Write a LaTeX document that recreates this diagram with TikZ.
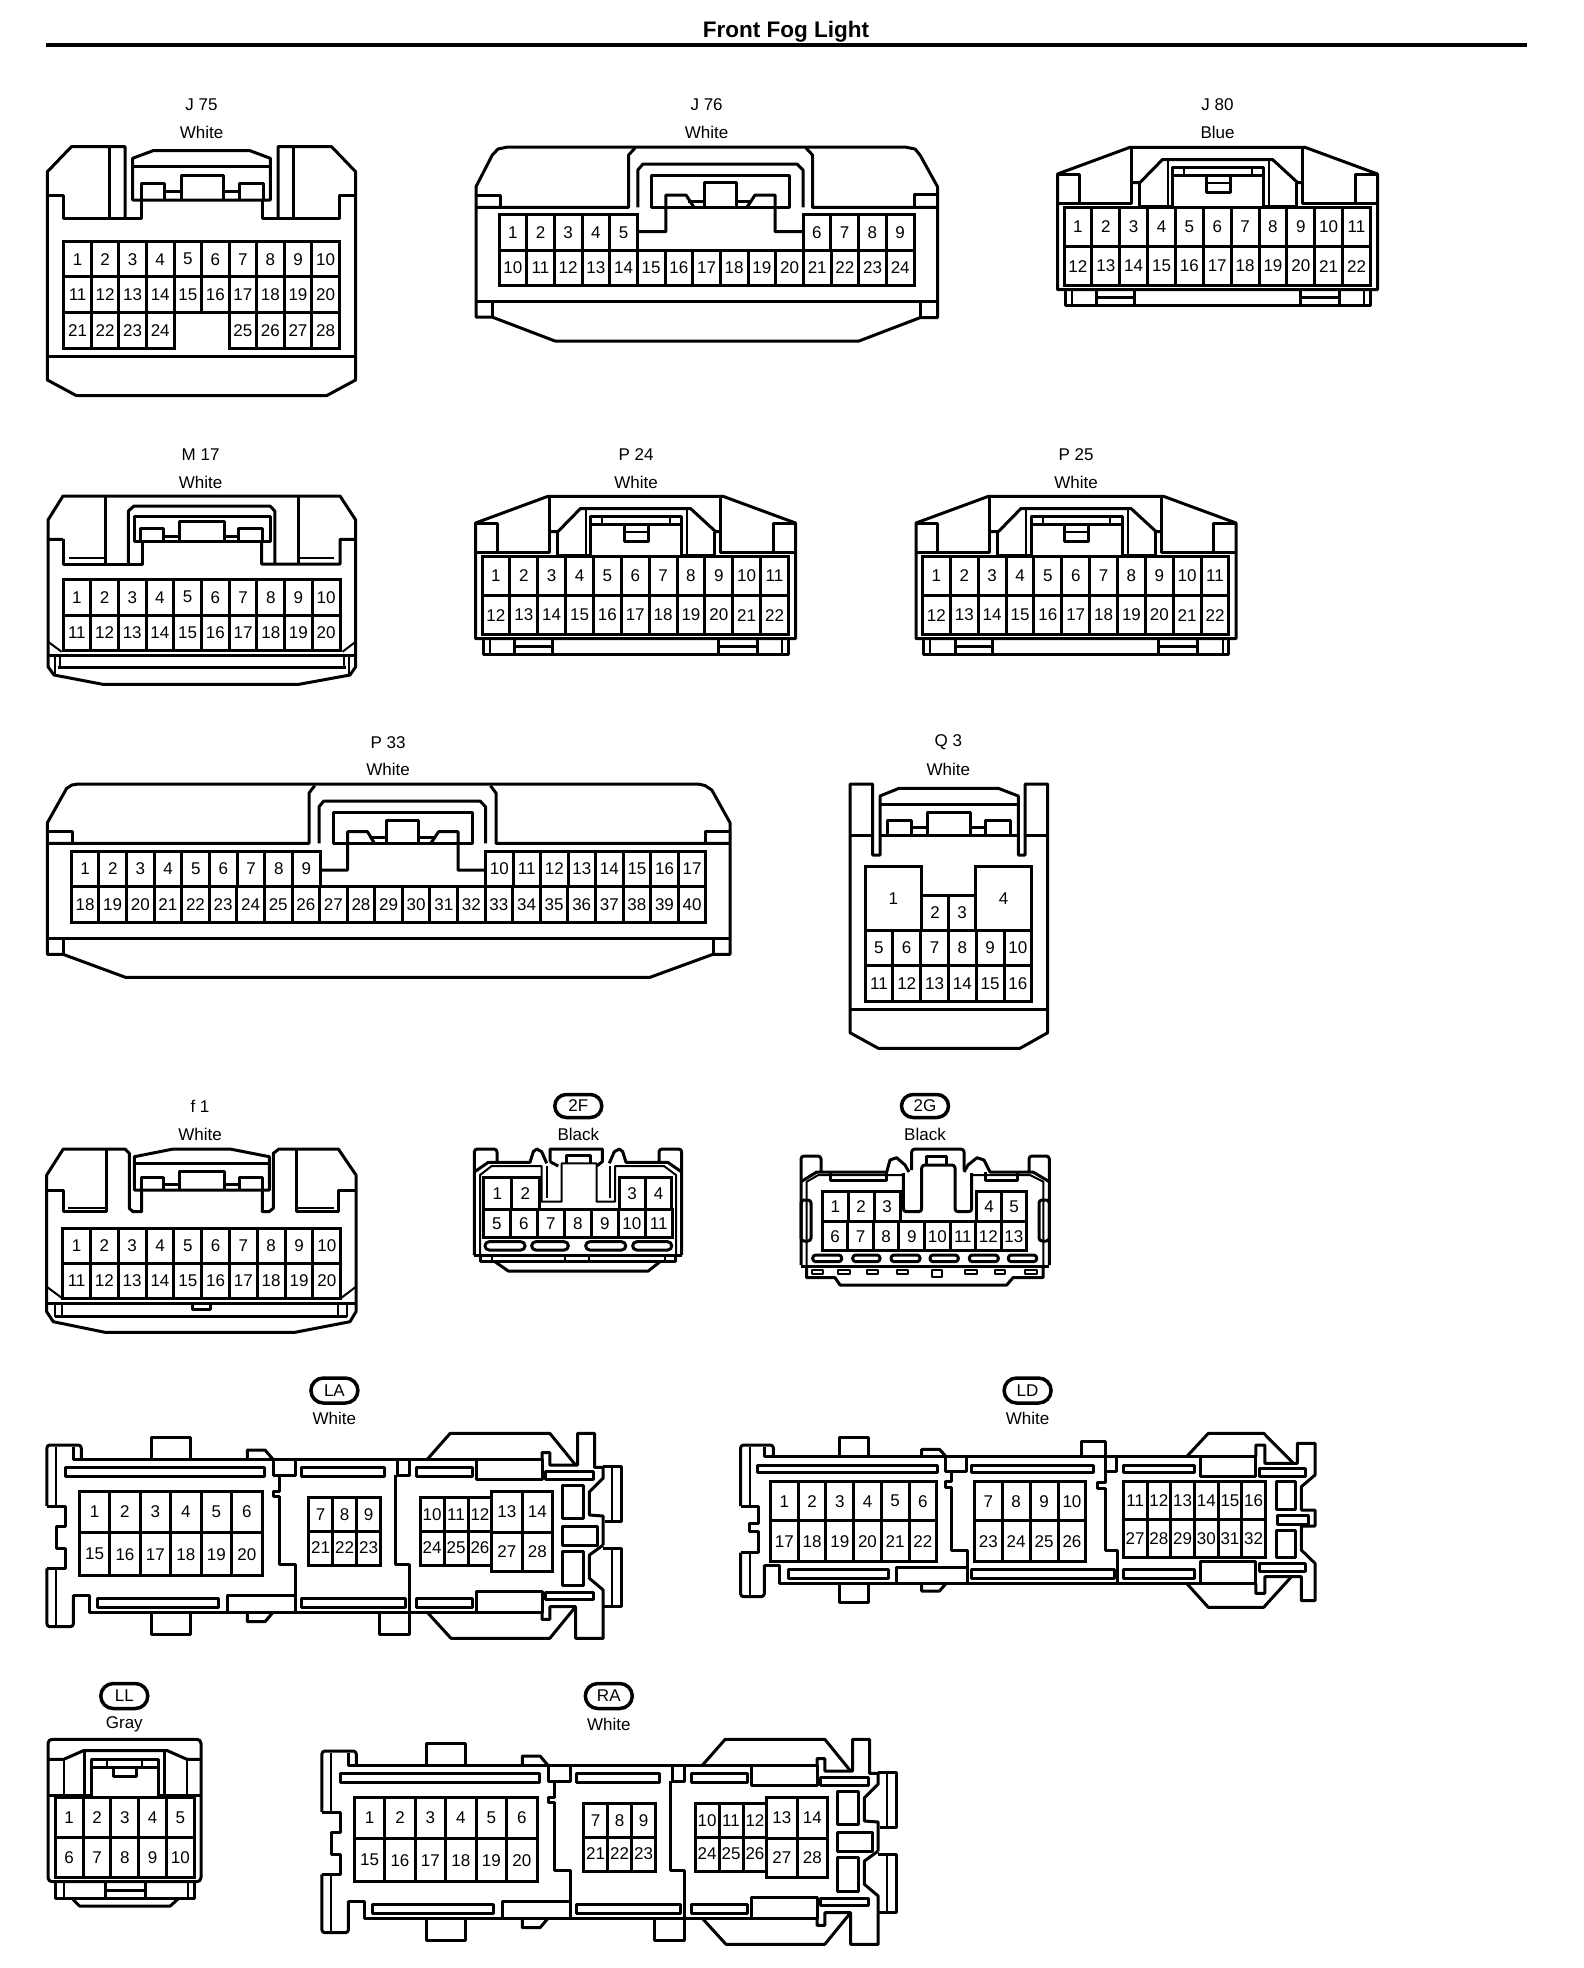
\documentclass[tikz,border=0pt]{standalone}
\usepackage{fontspec}
\setmainfont{Liberation Sans}
\usetikzlibrary{shapes.misc}
\tikzset{
  heavy/.style={line width=3pt,line join=round},
  light/.style={line width=2pt,line join=round},
  pincell/.style={draw,line width=3pt,inner sep=0pt,outer sep=0pt,anchor=north west,font=\fontsize{17}{20}\selectfont},
  conname/.style={inner sep=0pt,font=\fontsize{17}{20}\selectfont},
  pill/.style={draw,rounded rectangle,line width=3.5pt,inner sep=0pt,minimum width=47pt,font=\fontsize{17}{20}\selectfont}
}
% one row of pins: prefix, x, top, bottom, width, first, last
\newcommand{\pinrow}[7]{
  \pgfmathsetmacro{\pinh}{#4-#3}
  \foreach \n in {#6,...,#7} {
    \pgfmathsetmacro{\pinx}{#2+(\n-#6)*#5}
    \node[pincell,minimum width=#5pt,minimum height=\pinh pt] (#1-\n) at (\pinx,#3) {\n};
  }
}
% J 80, P 24, P 25
\newcommand{\wedgeconn}[3]{
  \begin{scope}[shift={(#2,#3)}]
    \draw[heavy] (1057.5,289.6) -- (1057.5,174) -- (1130,147.3) -- (1305,147.3) -- (1377.5,174) -- (1377.5,289.6) -- cycle;
    \draw[heavy] (1057.5,174) -- (1079,174) -- (1079,203.5);
    \draw[heavy] (1377.5,174) -- (1355,174) -- (1355,203.5);
    \draw[heavy] (1057.5,203.5) -- (1131,203.5) -- (1131,147.3);
    \draw[heavy] (1377.5,203.5) -- (1302.5,203.5) -- (1302.5,147.3);
    \draw[heavy] (1131,182.5) -- (1140,182.5) -- (1162.5,159.5) -- (1272.5,159.5) -- (1297.5,182.5) -- (1302.5,182.5);
    \draw[heavy] (1139,182.5) -- (1139,206) -- (1172.5,206);
    \draw[heavy] (1296.5,182.5) -- (1296.5,206) -- (1263.5,206);
    \draw[light] (1167.5,159.5) -- (1167.5,206);
    \draw[light] (1269,159.5) -- (1269,206);
    \draw[heavy] (1172.5,207) -- (1172.5,167) -- (1263.5,167) -- (1263.5,207);
    \draw[heavy] (1172.5,175) -- (1263.5,175);
    \draw[light] (1184,167) -- (1184,175);
    \draw[light] (1251.5,167) -- (1251.5,175);
    \draw[heavy] (1206,175) -- (1206,192) -- (1230,192) -- (1230,175);
    \draw[light] (1206,182.5) -- (1230,182.5);
    \pinrow{#1}{1064}{207.3}{246.4}{27.86}{1}{11}
    \pinrow{#1}{1064}{246.4}{285.8}{27.86}{12}{22}
    \draw[heavy] (1065,289.6) -- (1065,305) -- (1370,305) -- (1370,289.6);
    \draw[light] (1071.5,289.6) -- (1071.5,305);
    \draw[light] (1364,289.6) -- (1364,305);
    \draw[heavy] (1096.5,289.6) -- (1096.5,305);
    \draw[heavy] (1134,289.6) -- (1134,305);
    \draw[heavy] (1096.5,297) -- (1134,297);
    \draw[heavy] (1300,289.6) -- (1300,305);
    \draw[heavy] (1339,289.6) -- (1339,305);
    \draw[heavy] (1300,297) -- (1339,297);
  \end{scope}
}
% LA, RA
\newcommand{\railconn}[3]{
  \begin{scope}[shift={(#2,#3)}]
    \draw[heavy,rounded corners=3pt] (81.3,1458.3) -- (81.3,1445) -- (46.9,1445) -- (46.9,1506);
    \draw[heavy] (46.9,1506) -- (65.5,1506) -- (65.5,1526.7) -- (56.4,1526.7) -- (56.4,1548.3) -- (65.5,1548.3) -- (65.5,1568.3) -- (46.9,1568.3);
    \draw[heavy,rounded corners=3pt] (46.9,1568.3) -- (46.9,1626.7) -- (73.4,1626.7) -- (73.4,1595);
    \draw[light] (56.4,1447) -- (56.4,1506);
    \draw[light] (56.4,1568.3) -- (56.4,1626.7);
    \draw[heavy] (73.4,1447) -- (73.4,1459.3) -- (542,1459.3);
    \draw[heavy] (73.4,1595) -- (89.2,1595) -- (89.2,1612.3) -- (542,1612.3);
    % tabs
    \draw[heavy] (151.7,1459.3) -- (151.7,1437.3) -- (190,1437.3) -- (190,1459.3);
    \draw[heavy] (151.7,1612.3) -- (151.7,1634) -- (190,1634) -- (190,1612.3);
    \draw[heavy] (247.4,1459.3) -- (247.4,1450) -- (265,1450) -- (273,1459.3);
    \draw[heavy] (247.4,1612.3) -- (247.4,1621.7) -- (265,1621.7) -- (273,1612.3);
    \draw[heavy] (379.8,1612.3) -- (379.8,1634) -- (409.5,1634) -- (409.5,1612.3);
    % slots
    \draw[heavy] (65.5,1467.3) rectangle (264.4,1476);
    \draw[heavy] (301.5,1467.3) rectangle (384.6,1476);
    \draw[heavy] (416.2,1467.3) rectangle (472,1476);
    \draw[heavy] (97.9,1598.3) rectangle (218.9,1607.7);
    \draw[heavy] (301.5,1598.3) rectangle (405.5,1607.7);
    \draw[heavy] (416.2,1598.3) rectangle (472,1607.7);
    % dividers
    \draw[heavy] (273,1459.3) rectangle (295.6,1475);
    \draw[heavy] (397.6,1459.3) rectangle (409.5,1475);
    \draw[heavy] (279,1475) -- (279,1491.7) -- (273,1491.7) -- (273,1496.7) -- (279,1496.7) -- (279,1564) -- (295.6,1564) -- (295.6,1612.3);
    \draw[heavy] (395.6,1475) -- (395.6,1564) -- (409.5,1564) -- (409.5,1612.3);
    \draw[heavy] (227.6,1612.3) -- (227.6,1595) -- (295.6,1595);
    \draw[heavy] (476.7,1459.3) rectangle (542,1479.3);
    \draw[heavy] (476.7,1591.7) rectangle (542,1612.3);
    % right end
    \draw[heavy] (427.3,1459.3) -- (450.2,1433.3) -- (549.8,1433.3) -- (575.6,1465);
    \draw[heavy] (427.3,1612.3) -- (451,1638.3) -- (549.8,1638.3) -- (575.6,1606.7);
    \draw[heavy] (542,1459.3) -- (542,1452.7) -- (549.8,1452.7) -- (549.8,1465) -- (577.5,1465) -- (577.5,1433.3) -- (594.5,1433.3) -- (594.5,1467.3) -- (603.2,1467.3) -- (603.2,1478) -- (589.4,1491.7) -- (589.4,1515) -- (603.2,1516) -- (603.2,1545);
    \draw[heavy] (603.2,1545) -- (589.4,1555) -- (589.4,1578.3) -- (603.2,1590) -- (603.2,1638.3) -- (575.6,1638.3) -- (575.6,1606.7) -- (549.8,1606.7) -- (549.8,1619.3) -- (542,1619.3) -- (542,1612.3);
    \draw[heavy] (603.2,1466) -- (621,1466) -- (621,1521.7) -- (605,1521.7);
    \draw[heavy] (603.2,1548.3) -- (621,1548.3) -- (621,1606.7) -- (603.2,1606.7);
    \draw[light] (612,1466) -- (612,1521.7);
    \draw[light] (612,1548.3) -- (612,1606.7);
    \draw[heavy] (545,1471.7) rectangle (593.4,1479.3);
    \draw[heavy] (545,1592.3) rectangle (593.4,1599.3);
    \draw[heavy] (562.5,1485) rectangle (583.5,1518.3);
    \draw[heavy] (562.5,1526.7) rectangle (597.3,1545);
    \draw[heavy] (562.5,1551.7) rectangle (583.5,1585);
    \pinrow{#1}{79.3}{1491}{1532.7}{30.45}{1}{6}
    \pinrow{#1}{79.3}{1532.7}{1575.7}{30.45}{15}{20}
    \pinrow{#1}{308.6}{1497.7}{1531}{24}{7}{9}
    \pinrow{#1}{308.6}{1531}{1565}{24}{21}{23}
    \pinrow{#1}{420.2}{1497.7}{1531}{23.9}{10}{12}
    \pinrow{#1}{420.2}{1531}{1565}{23.9}{24}{26}
    \pinrow{#1}{491.7}{1491}{1532.3}{30.4}{13}{14}
    \pinrow{#1}{491.7}{1532.3}{1571.7}{30.4}{27}{28}
  \end{scope}
}
\begin{document}
\begin{tikzpicture}[x=1pt,y=-1pt]
  \useasboundingbox (0,0) rectangle (1584,1968);
  \node[font=\fontsize{22.5}{26}\selectfont\bfseries,inner sep=0pt] (title) at (786,32) {Front Fog Light};
  \coordinate (ruleL) at (46,45);
  \coordinate (ruleR) at (1527,45);
  \draw[line width=4pt] (ruleL) -- (ruleR);

  % J 75
  \node[conname] (J75a) at (201.5,105) {J 75};
  \node[conname] (J75b) at (201.5,132.7) {White};
  \draw[heavy] (47.4,195) -- (47.4,171.7) -- (71.4,146.7) -- (125,146.7) -- (125,218);
  \draw[heavy] (47.4,195) -- (63.8,195) -- (63.8,218) -- (141,218) -- (141,200);
  \draw[heavy] (109.7,146.7) -- (109.7,218);
  \draw[heavy] (355.6,195) -- (355.6,171.7) -- (331.6,146.7) -- (278,146.7) -- (278,218);
  \draw[heavy] (355.6,195) -- (339.3,195) -- (339.3,218) -- (262.8,218) -- (262.8,200);
  \draw[heavy] (293.4,146.7) -- (293.4,218);
  \draw[heavy] (132.6,200) -- (132.6,158.3) -- (153,150.7) -- (250,150.7) -- (270.4,158.3) -- (270.4,200) -- cycle;
  \draw[heavy] (132.6,166.7) -- (270.4,166.7);
  \draw[heavy] (141,200) -- (141,183.3) -- (164,183.3) -- (164,200);
  \draw[heavy] (181,200) -- (181,175) -- (223,175) -- (223,200);
  \draw[heavy] (239,200) -- (239,183.3) -- (263,183.3) -- (263,200);
  \draw[heavy] (164,191.7) -- (181,191.7);
  \draw[heavy] (223,191.7) -- (239,191.7);
  \pinrow{J75}{63.8}{241.7}{276.7}{27.55}{1}{10}
  \pinrow{J75}{63.8}{276.7}{312.7}{27.55}{11}{20}
  \pinrow{J75}{63.8}{312.7}{348.3}{27.55}{21}{24}
  \pinrow{J75}{229.1}{312.7}{348.3}{27.55}{25}{28}
  \draw[heavy] (47.4,195) -- (47.4,380) -- (76.5,395.7) -- (326.5,395.7) -- (355.6,380) -- (355.6,195);
  \draw[heavy] (47.4,356) -- (355.6,356);

  % J 76
  \node[conname] (J76a) at (706.6,105) {J 76};
  \node[conname] (J76b) at (706.6,132.7) {White};
  \draw[heavy] (476,317) -- (476,186.7) -- (492.3,155) -- (498,149) -- (507.7,147) -- (905,147) -- (915,149) -- (920,155) -- (937.5,186.7) -- (937.5,317.7) -- (920,317.7) -- (859,341) -- (555,341) -- (492,317) -- cycle;
  \draw[heavy] (476,195) -- (500,195) -- (500,207.3);
  \draw[heavy] (937.5,194.7) -- (914,194.7) -- (914,207.3);
  \draw[heavy] (476,207.3) -- (628.6,207.3) -- (628.6,155) -- (635,148);
  \draw[heavy] (937.5,207.3) -- (812.5,207.3) -- (812.5,155) -- (806,148);
  \draw[heavy] (637.8,207.3) -- (637.8,170) -- (643,164) -- (797,164) -- (803,170) -- (803,207.3);
  \draw[heavy] (651.5,207.3) rectangle (789,175);
  \draw[heavy] (637.8,231.7) -- (665.8,231.7) -- (665.8,195) -- (686,195) -- (694,207.3);
  \draw[heavy] (803,231.7) -- (775,231.7) -- (775,195) -- (755,195) -- (747,207.3);
  \draw[heavy] (688,201) -- (704,201);
  \draw[heavy] (736,201) -- (752,201);
  \draw[heavy] (704,207.3) -- (704,182.5) -- (736,182.5) -- (736,207.3);
  \pinrow{J76}{499}{214.5}{250}{27.67}{1}{5}
  \pinrow{J76}{803}{214.5}{250}{27.75}{6}{9}
  \pinrow{J76}{499}{250}{285.5}{27.67}{10}{24}
  \draw[heavy] (476,301) -- (937.5,301);
  \draw[heavy] (492,301) -- (492,317);
  \draw[heavy] (920,301) -- (920,317.7);

  % J 80
  \node[conname] (J80a) at (1217.5,105) {J 80};
  \node[conname] (J80b) at (1217.5,132.7) {Blue};
  \wedgeconn{J80}{0}{0}

  % M 17
  \node[conname] (M17a) at (200.6,454.7) {M 17};
  \node[conname] (M17b) at (200.6,482) {White};
  \draw[heavy] (63,539.3) -- (48,539.3) -- (48,520) -- (63,496) -- (340,496) -- (355.7,520) -- (355.7,539.3) -- (340,539.3) -- (340,564) -- (261.7,564) -- (261.7,541);
  \draw[heavy] (63,539.3) -- (63,564) -- (142.5,564) -- (142.5,541);
  \draw[heavy] (105,496) -- (105,564);
  \draw[heavy] (298,496) -- (298,564);
  \draw[heavy] (128.4,564) -- (128.4,511) -- (134,506) -- (270,506) -- (274.8,511) -- (274.8,564);
  \draw[light] (68.8,558) -- (105,558);
  \draw[light] (298,558) -- (334.4,558);
  \draw[heavy] (134,516.7) rectangle (270,541);
  \draw[heavy] (140.5,541) -- (140.5,528) -- (163,528) -- (163,541);
  \draw[heavy] (179,541) -- (179,521.7) -- (224,521.7) -- (224,541);
  \draw[heavy] (238.4,541) -- (238.4,528) -- (262.7,528) -- (262.7,541);
  \draw[heavy] (163,536) -- (179,536);
  \draw[heavy] (224,536) -- (238.4,536);
  \pinrow{M17}{63}{579.3}{615}{27.7}{1}{10}
  \pinrow{M17}{63}{615}{650.7}{27.7}{11}{20}
  \draw[heavy] (48,539.3) -- (48,666.7) -- (54,675) -- (102.7,684.3) -- (299,684.3) -- (350,675) -- (355.7,666.7) -- (355.7,539.3);
  \draw[heavy] (48,655) -- (355.7,655);
  \draw[heavy] (58,667.7) -- (346,667.7);
  \draw[light] (55,655) -- (55,674);
  \draw[light] (60,655) -- (60,668);
  \draw[light] (349,655) -- (349,674);
  \draw[light] (344,655) -- (344,668);
  \draw[light] (48,641.7) -- (61.5,651.7);
  \draw[light] (355.7,641.7) -- (342.6,651.7);

  % P 24, P 25
  \node[conname] (P24a) at (636,454.7) {P 24};
  \node[conname] (P24b) at (636,482) {White};
  \wedgeconn{P24}{-582}{349}
  \node[conname] (P25a) at (1076,454.7) {P 25};
  \node[conname] (P25b) at (1076,482) {White};
  \wedgeconn{P25}{-141.5}{349}

  % P 33
  \node[conname] (P33a) at (388,742.3) {P 33};
  \node[conname] (P33b) at (388,769.3) {White};
  \draw[heavy] (47.4,954.3) -- (47.4,822.7) -- (66.7,788.3) -- (72,785) -- (78.2,784) -- (698,784) -- (705,785.5) -- (711.8,790) -- (730,822.7) -- (730,954.3) -- (713,954.3) -- (650,977.3) -- (125.5,977.3) -- (63,954.3) -- cycle;
  \draw[heavy] (47.4,831) -- (72.2,831) -- (72.2,843.3);
  \draw[heavy] (730,831) -- (705.8,831) -- (705.8,843.3);
  \draw[heavy] (47.4,843.3) -- (309,843.3) -- (309,793) -- (314.7,785.7);
  \draw[heavy] (730,843.3) -- (496,843.3) -- (496,793) -- (490.5,785.7);
  \draw[heavy] (319,843.3) -- (319,806.7) -- (323.8,801) -- (480,801) -- (485.5,806.7) -- (485.5,843.3);
  \draw[heavy] (333,812.3) rectangle (472,843.3);
  \draw[heavy] (320,870) -- (347.7,870) -- (347.7,831.7) -- (367.5,831.7) -- (374.4,843.3);
  \draw[heavy] (485.5,870) -- (458,870) -- (458,831.7) -- (438.6,831.7) -- (430.8,843.3);
  \draw[heavy] (369.8,837.3) -- (386.8,837.3);
  \draw[heavy] (418,837.3) -- (434,837.3);
  \draw[heavy] (386.8,843.3) -- (386.8,820) -- (418,820) -- (418,843.3);
  \pinrow{P33}{71.3}{851}{886.7}{27.66}{1}{9}
  \pinrow{P33}{485.5}{851}{886.7}{27.54}{10}{17}
  \pinrow{P33}{71.3}{886.7}{922.3}{27.59}{18}{40}
  \draw[heavy] (47.4,938.3) -- (730,938.3);
  \draw[heavy] (63,938.3) -- (63,954.3);
  \draw[heavy] (713,938.3) -- (713,954.3);

  % Q 3
  \node[conname] (Q3a) at (948.3,742.3) {Q 3};
  \node[conname] (Q3b) at (948.3,769.3) {White};
  \draw[heavy] (850,1032.7) -- (850,784) -- (872.7,784) -- (872.7,855) -- (880,855) -- (880,796) -- (899,788.3) -- (998.3,788.3) -- (1018.3,796) -- (1018.3,855) -- (1025,855) -- (1025,784) -- (1047.7,784) -- (1047.7,1032.7) -- (1020,1048.3) -- (878.3,1048.3) -- cycle;
  \draw[heavy] (850,835.7) -- (872.7,835.7);
  \draw[heavy] (880,835.7) -- (1018.3,835.7);
  \draw[heavy] (1025,835.7) -- (1047.7,835.7);
  \draw[heavy] (880,804) -- (1018.3,804);
  \draw[heavy] (887.7,835.7) -- (887.7,820) -- (911.7,820) -- (911.7,835.7);
  \draw[heavy] (927.3,835.7) -- (927.3,812.3) -- (970,812.3) -- (970,835.7);
  \draw[heavy] (985,835.7) -- (985,820) -- (1010,820) -- (1010,835.7);
  \draw[heavy] (911.7,827.7) -- (927.3,827.7);
  \draw[heavy] (970,827.7) -- (985,827.7);
  \pinrow{Q3}{865}{866.7}{930}{56.7}{1}{1}
  \pinrow{Q3}{921.7}{895}{930}{27}{2}{3}
  \pinrow{Q3}{975.7}{866.7}{930}{56}{4}{4}
  \pinrow{Q3}{865}{930}{965.7}{27.8}{5}{10}
  \pinrow{Q3}{865}{965.7}{1001.7}{27.8}{11}{16}
  \draw[heavy] (850,1009.3) -- (1047.7,1009.3);

  % f 1
  \node[conname] (f1a) at (200,1106.5) {f 1};
  \node[conname] (f1b) at (200,1134) {White};
  \draw[heavy] (46.7,1190) -- (46.7,1175) -- (63.3,1149) -- (125,1149) -- (129.3,1153.3) -- (129.3,1208.3) -- (133,1211.7) -- (141.7,1211.7) -- (141.7,1190);
  \draw[heavy] (46.7,1190) -- (63.3,1190) -- (63.3,1211.7) -- (106.7,1211.7) -- (106.7,1149);
  \draw[light] (68.3,1208.3) -- (105,1208.3);
  \draw[heavy] (356,1190) -- (356,1175) -- (338.3,1149) -- (279,1149) -- (273.3,1153.3) -- (273.3,1208.3) -- (269,1211.7) -- (262.3,1211.7) -- (262.3,1190);
  \draw[heavy] (356,1190) -- (338.3,1190) -- (338.3,1211.7) -- (296.7,1211.7) -- (296.7,1149);
  \draw[light] (298.3,1208.3) -- (334,1208.3);
  \draw[heavy] (134.3,1190) -- (134.3,1156.7) -- (173.3,1149) -- (230,1149) -- (269.3,1156.7) -- (269.3,1190) -- cycle;
  \draw[heavy] (134.3,1163.3) -- (269.3,1163.3);
  \draw[heavy] (141.7,1190) -- (141.7,1177.3) -- (163.3,1177.3) -- (163.3,1190);
  \draw[heavy] (179,1190) -- (179,1171) -- (224.3,1171) -- (224.3,1190);
  \draw[heavy] (239.3,1190) -- (239.3,1177.3) -- (262.3,1177.3) -- (262.3,1190);
  \draw[heavy] (163.3,1184) -- (179,1184);
  \draw[heavy] (224.3,1184) -- (239.3,1184);
  \pinrow{f1}{62.7}{1228.3}{1263.3}{27.8}{1}{10}
  \pinrow{f1}{62.7}{1263.3}{1298.3}{27.8}{11}{20}
  \draw[heavy] (46.7,1190) -- (46.7,1311.7) -- (53.3,1321.7) -- (105,1332.3) -- (295,1332.3) -- (350,1321.7) -- (356,1311.7) -- (356,1190);
  \draw[heavy] (46.7,1303.3) -- (356,1303.3);
  \draw[heavy] (55,1316.7) -- (346.7,1316.7);
  \draw[light] (55,1303.3) -- (55,1316.7);
  \draw[light] (61.7,1303.3) -- (61.7,1316.7);
  \draw[light] (338,1303.3) -- (338,1316.7);
  \draw[light] (346.7,1303.3) -- (346.7,1316.7);
  \draw[light] (46.7,1286.7) -- (62.3,1298.3);
  \draw[light] (356,1286.7) -- (340.7,1298.3);
  \draw[heavy] (192.7,1303.3) -- (192.7,1309) -- (210.7,1309) -- (210.7,1303.3);

  % 2F
  \node[pill,minimum height=23pt] (pill2F) at (578.3,1106) {2F};
  \node[conname] (b2F) at (578.3,1134) {Black};
  \draw[heavy,rounded corners=3pt] (474.3,1255) -- (474.3,1149) -- (497,1149) -- (497,1163);
  \draw[heavy,rounded corners=3pt] (681.7,1255) -- (681.7,1149) -- (659,1149) -- (659,1163);
  \draw[heavy] (474.3,1172) -- (488.3,1162.3) -- (530,1162.3) -- (533.3,1151.7) -- (536.7,1149) -- (541.7,1151.7) -- (546.7,1163.3);
  \draw[heavy] (681.7,1172) -- (667.7,1162.3) -- (626,1162.3) -- (622.7,1151.7) -- (619.3,1149) -- (614.3,1151.7) -- (609.3,1163.3);
  \draw[light] (480,1255) -- (480,1175) -- (491.7,1166) -- (541.7,1166) -- (541.7,1201.7) -- (561.7,1201.7) -- (561.7,1163.3) -- (596.7,1163.3) -- (596.7,1201.7) -- (615,1201.7) -- (615,1166) -- (664,1166) -- (676,1175) -- (676,1255);
  \draw[heavy] (550,1161.7) -- (550,1149) -- (602.3,1149) -- (602.3,1161.7) -- (596.7,1166);
  \draw[heavy] (550,1161.7) -- (558.3,1166);
  \draw[light] (546.7,1166) -- (546.7,1198);
  \draw[light] (610,1166) -- (610,1198);
  \draw[heavy] (566.7,1163.3) -- (566.7,1155) -- (590,1155) -- (590,1163.3);
  \pinrow{2F}{483.3}{1177.7}{1209}{28}{1}{2}
  \pinrow{2F}{619}{1177.7}{1209}{26.4}{3}{4}
  \pinrow{2F}{483.3}{1209}{1237.7}{27}{5}{11}
  \draw[heavy,rounded corners=4pt] (485,1241.7) rectangle (525,1250);
  \draw[heavy,rounded corners=4pt] (531.7,1241.7) rectangle (568.3,1250);
  \draw[heavy,rounded corners=4pt] (585.7,1241.7) rectangle (625.7,1250);
  \draw[heavy,rounded corners=4pt] (632.7,1241.7) rectangle (671.7,1250);
  \draw[heavy] (474.3,1255) -- (681.7,1255);
  \draw[heavy] (480,1255) -- (480,1261.7) -- (675,1261.7) -- (675,1255);
  \draw[light] (491.7,1255) -- (491.7,1261.7);
  \draw[light] (565,1255) -- (565,1261.7);
  \draw[light] (589,1255) -- (589,1261.7);
  \draw[light] (665,1255) -- (665,1261.7);
  \draw[heavy] (495,1261.7) -- (508.3,1271) -- (648.3,1271) -- (660,1261.7);

  % 2G
  \node[pill,minimum height=23pt] (pill2G) at (925,1106) {2G};
  \node[conname] (b2G) at (925,1134) {Black};
  \draw[heavy,rounded corners=3pt] (801,1265) -- (801,1156) -- (821,1156) -- (821,1172);
  \draw[heavy,rounded corners=3pt] (1049.3,1265) -- (1049.3,1156) -- (1029,1156) -- (1029,1172);
  \draw[heavy] (801,1181.7) -- (816.7,1172) -- (886.7,1172) -- (890,1160) -- (896.7,1157.7) -- (905,1165) -- (909,1172);
  \draw[heavy] (1049.3,1181.7) -- (1033,1172) -- (990,1172) -- (984,1160) -- (977,1157.7) -- (968,1165) -- (964,1172);
  \draw[light] (806.7,1266) -- (806.7,1181.7) -- (818.3,1175) -- (903.3,1175);
  \draw[light] (1043.3,1266) -- (1043.3,1181.7) -- (1030,1175) -- (971.7,1175);
  \draw[heavy,rounded corners=3pt] (903.3,1173) -- (903.3,1211.7) -- (921.7,1211.7) -- (921.7,1165) -- (955,1165) -- (955,1211.7) -- (971.7,1211.7) -- (971.7,1173);
  \draw[heavy,rounded corners=3pt] (911.7,1170) -- (911.7,1149) -- (964,1149) -- (964,1170);
  \draw[heavy] (926.7,1165) -- (926.7,1156) -- (946.7,1156) -- (946.7,1165);
  \draw[heavy] (830,1172) -- (830,1180) -- (886,1180) -- (886,1172);
  \draw[heavy] (985,1172) -- (985,1180) -- (1017,1180) -- (1017,1172);
  \pinrow{2G}{822.3}{1191.7}{1221.7}{25.9}{1}{3}
  \pinrow{2G}{976.7}{1191.7}{1221.7}{25}{4}{5}
  \pinrow{2G}{822.3}{1221.7}{1250.7}{25.55}{6}{13}
  \foreach \sa/\sb in {812.7/841.7,852.7/880,891/920,930/958.3,969.3/998.3,1008.3/1036.7} {
    \draw[heavy,rounded corners=3pt] (\sa,1255) rectangle (\sb,1261.7);
  }
  \draw[heavy,rounded corners=3pt] (801,1200) rectangle (811,1241);
  \draw[heavy,rounded corners=3pt] (1039,1200) rectangle (1049.3,1241);
  \draw[heavy] (801,1266.7) -- (1049.3,1266.7);
  \draw[heavy] (806.7,1266.7) -- (806.7,1277.7) -- (835,1277.7) -- (840,1285) -- (1006.7,1285) -- (1013,1277.7) -- (1043,1277.7) -- (1043,1266.7);
  \foreach \sa/\sb in {811.7/823.3,838.3/850,866.7/878.3,896.7/908.3,965/976.7,995/1005,1025/1036.7} {
    \draw[light] (\sa,1270) rectangle (\sb,1274.3);
  }
  \draw[light] (931.7,1270) rectangle (941.7,1277);

  % LA
  \node[pill,minimum height=25pt] (pillLA) at (334.4,1390.5) {LA};
  \node[conname] (bLA) at (334.4,1418) {White};
  \railconn{LA}{0}{0}

  % LD
  \node[pill,minimum height=25pt] (pillLD) at (1027.6,1390.5) {LD};
  \node[conname] (bLD) at (1027.6,1418) {White};
  \draw[heavy,rounded corners=3pt] (773.4,1456.7) -- (773.4,1445) -- (740.6,1445) -- (740.6,1506);
  \draw[heavy] (740.6,1506) -- (758.8,1506) -- (758.8,1523.3) -- (749.7,1523.3) -- (749.7,1531.7) -- (758.8,1531.7) -- (758.8,1552.7) -- (740.6,1552.7);
  \draw[heavy,rounded corners=3pt] (740.6,1552.7) -- (740.6,1596.7) -- (764.3,1596.7) -- (764.3,1565);
  \draw[light] (749.7,1447) -- (749.7,1506);
  \draw[light] (749.7,1552.7) -- (749.7,1596.7);
  \draw[heavy] (764.3,1447) -- (764.3,1456.7) -- (1255.8,1456.7);
  \draw[heavy] (764.3,1565) -- (779.3,1565) -- (779.3,1583.3) -- (1255.8,1583.3);
  \draw[heavy] (839.8,1456.7) -- (839.8,1437.3) -- (868.3,1437.3) -- (868.3,1456.7);
  \draw[heavy] (839.8,1583.3) -- (839.8,1602.7) -- (868.3,1602.7) -- (868.3,1583.3);
  \draw[heavy] (921.7,1456.7) -- (921.7,1449.3) -- (939.5,1449.3) -- (946.2,1456.7);
  \draw[heavy] (921.7,1583.3) -- (921.7,1591) -- (939.5,1591) -- (946.2,1583.3);
  \draw[heavy] (1081.8,1456.7) -- (1081.8,1441.7) -- (1105.5,1441.7) -- (1105.5,1456.7);
  \draw[heavy] (757.6,1465) rectangle (937.5,1472.7);
  \draw[heavy] (971.1,1465) rectangle (1093.7,1472.7);
  \draw[heavy] (1123.3,1465) rectangle (1194.5,1472.7);
  \draw[heavy] (788,1569.3) rectangle (888,1578.3);
  \draw[heavy] (971,1569.3) rectangle (1114.2,1578.3);
  \draw[heavy] (1123.3,1569.3) rectangle (1194.5,1578.3);
  \draw[heavy] (945.4,1456.7) rectangle (966,1471);
  \draw[heavy] (1105.5,1456.7) rectangle (1116.6,1471);
  \draw[heavy] (951.3,1471) -- (951.3,1481.7) -- (945.4,1481.7) -- (945.4,1487.7) -- (951.3,1487.7) -- (951.3,1550) -- (967,1550) -- (967,1583.3);
  \draw[heavy] (1105.5,1471) -- (1105.5,1482.7) -- (1097.6,1482.7) -- (1097.6,1488.3) -- (1105.5,1488.3) -- (1105.5,1550.7) -- (1117.4,1550.7) -- (1117.4,1583.3);
  \draw[heavy] (896,1583.3) -- (896,1567.3) -- (967,1567.3);
  \draw[heavy] (1200.4,1456.7) rectangle (1255.8,1476.7);
  \draw[heavy] (1200.4,1561.7) rectangle (1255.8,1583.3);
  \draw[heavy] (1186.6,1456.7) -- (1208.3,1433.3) -- (1263.7,1433.3) -- (1293.4,1463.3);
  \draw[heavy] (1186.6,1583.3) -- (1208.3,1607.3) -- (1263.7,1607.3) -- (1291.4,1576.7);
  \draw[heavy] (1255.8,1456.7) -- (1255.8,1445) -- (1264.9,1445) -- (1264.9,1463.3) -- (1297.3,1463.3) -- (1297.3,1443.3) -- (1315,1443.3) -- (1315,1475) -- (1301.3,1486.7) -- (1301.3,1510) -- (1315,1510) -- (1315,1526) -- (1301.3,1526) -- (1301.3,1550) -- (1315,1563.3) -- (1315,1600.7) -- (1301.3,1600.7) -- (1301.3,1576.7) -- (1264.9,1576.7) -- (1264.9,1593.3) -- (1255.8,1593.3) -- (1255.8,1583.3);
  \draw[heavy] (1259.7,1468.3) rectangle (1305.2,1476);
  \draw[heavy] (1259.7,1563.3) rectangle (1305.2,1571);
  \draw[heavy] (1277.5,1515) rectangle (1308,1524);
  \draw[heavy] (1276.7,1481.7) rectangle (1295.3,1509.3);
  \draw[heavy] (1276.7,1530) rectangle (1295.3,1557.7);
  \pinrow{LD}{770.6}{1481.7}{1520.7}{27.68}{1}{6}
  \pinrow{LD}{770.6}{1520.7}{1561.7}{27.68}{17}{22}
  \pinrow{LD}{974.3}{1481.7}{1520.7}{27.9}{7}{10}
  \pinrow{LD}{974.3}{1520.7}{1561.7}{27.9}{23}{26}
  \pinrow{LD}{1123.3}{1481.7}{1519.3}{23.7}{11}{16}
  \pinrow{LD}{1123.3}{1519.3}{1557.7}{23.7}{27}{32}

  % LL
  \node[pill,minimum height=25pt] (pillLL) at (124.3,1696) {LL};
  \node[conname] (bLL) at (124.3,1724.3) {Gray};
  \draw[heavy,rounded corners=4pt] (48,1881.7) -- (48,1739.3) -- (201,1739.3) -- (201,1881.7) -- cycle;
  \draw[heavy] (48,1759.3) -- (63.7,1759.3) -- (83.3,1750.7) -- (167.5,1750.7) -- (187,1759.3) -- (201,1759.3);
  \draw[light] (63.7,1759.3) -- (63.7,1795);
  \draw[light] (187,1759.3) -- (187,1795);
  \draw[heavy] (84.4,1751) -- (84.4,1795);
  \draw[heavy] (164.7,1751) -- (164.7,1795);
  \draw[heavy] (91.7,1796) -- (91.7,1759.3) -- (158,1759.3) -- (158,1796);
  \draw[heavy] (91.7,1767.3) -- (158,1767.3);
  \draw[light] (106.9,1759.3) -- (106.9,1767.3);
  \draw[light] (142,1759.3) -- (142,1767.3);
  \draw[heavy] (113,1767.3) -- (113,1776) -- (136.6,1776) -- (136.6,1767.3);
  \draw[heavy] (48,1795) -- (91.7,1795);
  \draw[heavy] (158,1795) -- (201,1795);
  \pinrow{LL}{55.3}{1797.3}{1837.3}{27.8}{1}{5}
  \pinrow{LL}{55.3}{1837.3}{1877.3}{27.8}{6}{10}
  \draw[heavy] (55.3,1881.7) -- (55.3,1898.3) -- (194.4,1898.3) -- (194.4,1881.7);
  \draw[light] (63.7,1881.7) -- (63.7,1898.3);
  \draw[light] (188,1881.7) -- (188,1898.3);
  \draw[heavy] (105.8,1881.7) -- (105.8,1898.3);
  \draw[heavy] (145,1881.7) -- (145,1898.3);
  \draw[heavy] (105.8,1890) -- (145,1890);
  \draw[heavy] (72,1898.3) -- (79.4,1906) -- (170.3,1906) -- (178.7,1898.3);

  % RA
  \node[pill,minimum height=25pt] (pillRA) at (608.8,1696) {RA};
  \node[conname] (bRA) at (608.8,1724.3) {White};
  \railconn{RA}{275}{306}
\end{tikzpicture}
\end{document}
